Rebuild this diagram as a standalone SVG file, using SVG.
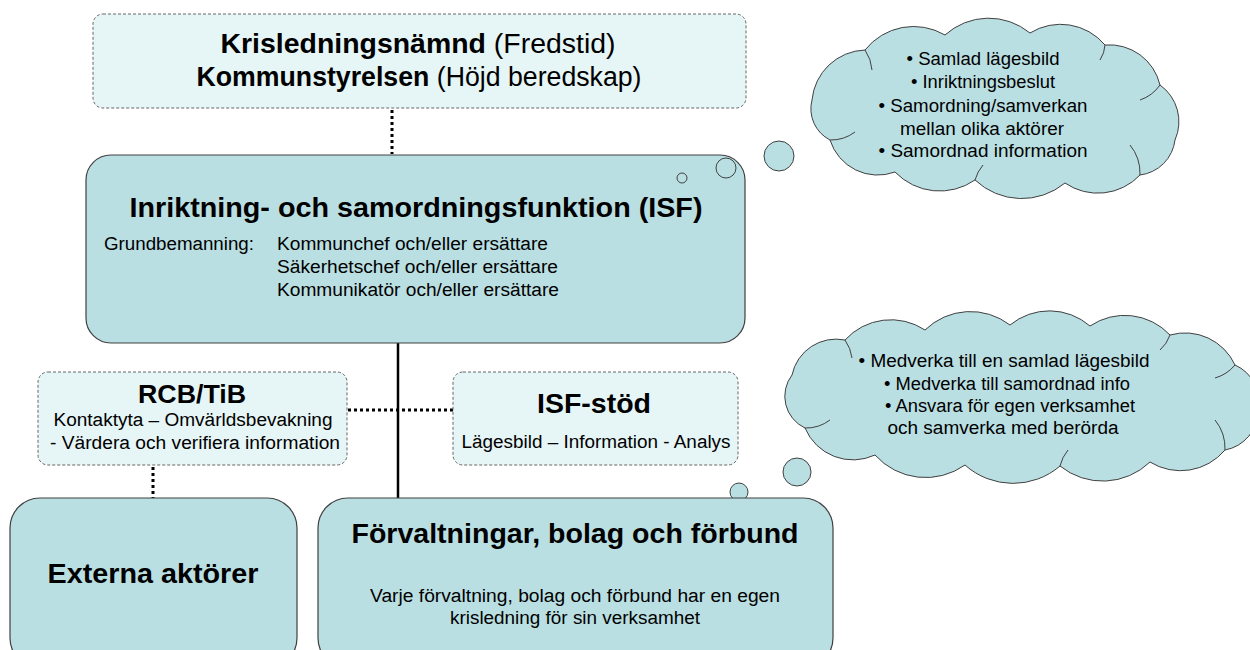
<svg xmlns="http://www.w3.org/2000/svg" width="1250" height="650" viewBox="0 0 1250 650">
<style>
text{font-family:"Liberation Sans",Arial,sans-serif;fill:#000}
.light{fill:#e6f5f6;stroke:#666;stroke-width:1;stroke-dasharray:3 2}
.solid{fill:#b9dfe3;stroke:#404040;stroke-width:1.2}
.cloud{fill:#b9dfe3;stroke:#404040;stroke-width:1}
.inner{fill:none;stroke:#404040;stroke-width:1}
.b{font-weight:bold}
.t{font-size:18px}
.dot{stroke:#000;stroke-width:3;stroke-dasharray:3 3;fill:none}
</style>
<rect width="1250" height="650" fill="#fff"/>
<g id="connectors">
<line class="dot" x1="392" y1="110" x2="392" y2="154"/>
<line x1="398" y1="343" x2="398" y2="498" stroke="#000" stroke-width="2.5"/>
<line class="dot" x1="348" y1="410" x2="453" y2="410"/>
<line class="dot" x1="153" y1="467" x2="153" y2="498"/>
</g>
<g id="top">
<rect class="light" x="93" y="14" width="653" height="94" rx="10"/>
<text x="418" y="53" text-anchor="middle" font-size="27" textLength="395" lengthAdjust="spacingAndGlyphs"><tspan class="b">Krisledningsnämnd</tspan> (Fredstid)</text>
<text x="419" y="86" text-anchor="middle" font-size="27" textLength="445" lengthAdjust="spacingAndGlyphs"><tspan class="b">Kommunstyrelsen</tspan> (Höjd beredskap)</text>
</g>
<g id="isf">
<rect class="solid" x="86" y="155" width="659" height="188" rx="25"/>
<text x="416" y="217" text-anchor="middle" font-size="28" class="b" textLength="573" lengthAdjust="spacingAndGlyphs">Inriktning- och samordningsfunktion (ISF)</text>
<text x="104" y="250" class="t" textLength="150" lengthAdjust="spacingAndGlyphs">Grundbemanning:</text>
<text x="277" y="250" class="t" textLength="271" lengthAdjust="spacingAndGlyphs">Kommunchef och/eller ersättare</text>
<text x="277" y="273" class="t" textLength="281" lengthAdjust="spacingAndGlyphs">Säkerhetschef och/eller ersättare</text>
<text x="277" y="296" class="t" textLength="282" lengthAdjust="spacingAndGlyphs">Kommunikatör och/eller ersättare</text>
</g>
<g id="cloud1">
<circle class="cloud" cx="682" cy="178" r="5" fill="#fff"/>
<circle class="cloud" cx="726" cy="168" r="10"/>
<circle class="cloud" cx="779" cy="156" r="15"/>
<path class="cloud" d="M812,100 A55,55 0 0 1 865,50 A62,62 0 0 1 945,35 A65,65 0 0 1 1030,33 A58,58 0 0 1 1105,45 A52,52 0 0 1 1160,85 A45,45 0 0 1 1175,140 A40,40 0 0 1 1140,175 A58,58 0 0 1 1065,183 A68,68 0 0 1 975,180 A62,62 0 0 1 895,172 A50,50 0 0 1 830,140 A35,35 0 0 1 812,100 Z"/>
<path class="inner" d="M865,50 A40,40 0 0 1 872,70 M1105,45 A30,30 0 0 1 1100,60 M1160,85 A40,40 0 0 1 1140,100 M1140,175 A45,45 0 0 0 1130,145 M975,180 A40,40 0 0 1 983,165 M830,140 A40,40 0 0 0 855,132"/>
<text x="983" y="65" text-anchor="middle" font-size="17.5" textLength="153" lengthAdjust="spacingAndGlyphs">• Samlad lägesbild</text>
<text x="983" y="88" text-anchor="middle" font-size="17.5" textLength="144" lengthAdjust="spacingAndGlyphs">• Inriktningsbeslut</text>
<text x="983" y="112" text-anchor="middle" font-size="17.5" textLength="209" lengthAdjust="spacingAndGlyphs">• Samordning/samverkan</text>
<text x="982" y="135" text-anchor="middle" font-size="17.5" textLength="164" lengthAdjust="spacingAndGlyphs">mellan olika aktörer</text>
<text x="983" y="157" text-anchor="middle" font-size="17.5" textLength="209" lengthAdjust="spacingAndGlyphs">• Samordnad information</text>
</g>
<g id="cloud2">
<circle class="cloud" cx="690" cy="510" r="5" fill="#fff"/>
<circle class="cloud" cx="739" cy="492" r="9"/>
<circle class="cloud" cx="797" cy="472" r="14"/>
<path class="cloud" d="M792,375 A45,45 0 0 1 845,340 A62,62 0 0 1 925,330 A65,65 0 0 1 1010,325 A62,62 0 0 1 1090,326 A62,62 0 0 1 1170,335 A55,55 0 0 1 1235,365 A40,40 0 0 1 1258,410 A40,40 0 0 1 1225,450 A58,58 0 0 1 1150,462 A68,68 0 0 1 1060,466 A72,72 0 0 1 965,465 A68,68 0 0 1 875,455 A52,52 0 0 1 805,428 A35,35 0 0 1 792,375 Z"/>
<path class="inner" d="M845,340 A40,40 0 0 1 852,358 M1170,335 A35,35 0 0 1 1160,350 M1235,365 A40,40 0 0 1 1215,378 M1225,450 A45,45 0 0 0 1215,420 M1060,466 A40,40 0 0 1 1068,450 M805,428 A40,40 0 0 0 830,420"/>
<text x="1004" y="367" text-anchor="middle" font-size="18" textLength="291" lengthAdjust="spacingAndGlyphs">• Medverka till en samlad lägesbild</text>
<text x="1007" y="390" text-anchor="middle" font-size="18" textLength="246" lengthAdjust="spacingAndGlyphs">• Medverka till samordnad info</text>
<text x="1010" y="412" text-anchor="middle" font-size="18" textLength="250" lengthAdjust="spacingAndGlyphs">• Ansvara för egen verksamhet</text>
<text x="1003" y="434" text-anchor="middle" font-size="18" textLength="231" lengthAdjust="spacingAndGlyphs">och samverka med berörda</text>
</g>
<g id="rcb">
<rect class="light" x="38" y="372" width="309" height="93" rx="10"/>
<text x="192" y="403" text-anchor="middle" font-size="26" class="b" textLength="108" lengthAdjust="spacingAndGlyphs">RCB/TiB</text>
<text x="193" y="426" text-anchor="middle" class="t" textLength="279" lengthAdjust="spacingAndGlyphs">Kontaktyta – Omvärldsbevakning</text>
<text x="195" y="449" text-anchor="middle" class="t" textLength="290" lengthAdjust="spacingAndGlyphs">- Värdera och verifiera information</text>
</g>
<g id="isfstod">
<rect class="light" x="453" y="372" width="285" height="93" rx="10"/>
<text x="594" y="413" text-anchor="middle" font-size="28" class="b" textLength="114" lengthAdjust="spacingAndGlyphs">ISF-stöd</text>
<text x="596" y="448" text-anchor="middle" class="t" textLength="269" lengthAdjust="spacingAndGlyphs">Lägesbild – Information - Analys</text>
</g>
<g id="externa">
<rect class="solid" x="10" y="498" width="287" height="170" rx="30"/>
<text x="153" y="583" text-anchor="middle" font-size="28" class="b" textLength="211" lengthAdjust="spacingAndGlyphs">Externa aktörer</text>
</g>
<g id="forvaltningar">
<rect class="solid" x="318" y="498" width="515" height="170" rx="30"/>
<text x="575" y="543" text-anchor="middle" font-size="28" class="b" textLength="447" lengthAdjust="spacingAndGlyphs">Förvaltningar, bolag och förbund</text>
<text x="575" y="602" text-anchor="middle" class="t" textLength="410" lengthAdjust="spacingAndGlyphs">Varje förvaltning, bolag och förbund har en egen</text>
<text x="575" y="624" text-anchor="middle" class="t" textLength="250" lengthAdjust="spacingAndGlyphs">krisledning för sin verksamhet</text>
</g>
</svg>
